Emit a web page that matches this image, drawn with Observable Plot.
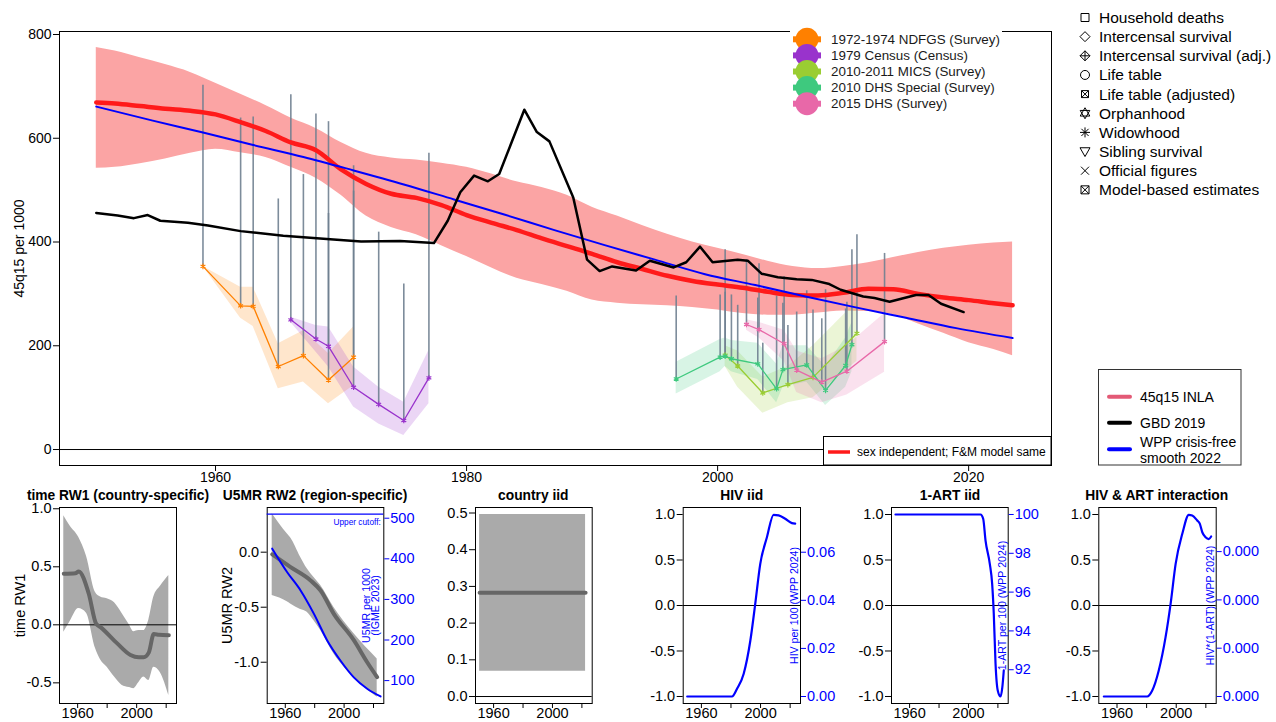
<!DOCTYPE html>
<html><head><meta charset="utf-8">
<script src="https://cdn.jsdelivr.net/npm/d3@7"></script>
<script src="https://cdn.jsdelivr.net/npm/@observablehq/plot@0.6"></script>
<style>
body{margin:0;background:#fff;font-family:"Liberation Sans",Arial,sans-serif;}
#wrap{position:relative;width:1276px;height:722px;overflow:hidden;background:#fff;}
.ttl{position:absolute;font-weight:bold;font-size:13.8px;transform:translate(-50%,-50%);white-space:nowrap;color:#000;}
</style></head><body><div id="wrap"></div>
<script>
// ---------------- MAIN CHART DATA ----------------
const xTicksMain = [1960, 1980, 2000, 2020];
const yTicksMain = [0, 200, 400, 600, 800];

const inlaYears = [1950.5,1952,1954,1956,1958,1960,1962,1964,1966,1968,1970,1972,1974,1976,1978,1980,1982,1984,1986,1988,1990,1992,1994,1996,1998,2000,2002,2004,2006,2008,2010,2012,2014,2016,2018,2020,2022,2023.5];
const inlaMid = [669,667,662,657,653,646,631,614,592,577,540,512,493,485,471,452,437,423,407,392,377,361,348,335,325,318,312,304,298,297,302,310,309,300,293,288,282,278];
const inlaHi = [775,768,755,742,727,706,685,663,639,619,592,571,562,558,552,544,531,516,505,490,467,450,432,415,400,388,376,363,353,349,353,360,370,380,388,394,398,400];
const inlaLo = [542,544,551,560,571,579,572,563,544,523,490,450,428,414,393,372,350,330,318,305,288,282,279,277,274,269,262,259,259,263,267,266,260,242,224,206,193,181];

const wppYears = [1950.5,1955,1959,1963,1967,1971,1975,1979,1983,1987,1991,1995,1999,2003,2007,2011,2015,2019,2023.5];
const wppVal = [661,634,611,587,564,538,511,482,453,423,394,366,338,317,295,274,254,234,215];

const gbdYears = [1950.5,1952.2,1953.5,1954.6,1955.6,1957.8,1959.4,1962,1965.4,1969.4,1971.6,1974.7,1977.4,1978.5,1979.5,1980.6,1981.7,1982.6,1984.6,1985.6,1986.6,1988.5,1989.6,1990.6,1991.6,1993.5,1994.6,1996.5,1997.5,1998.6,1999.6,2001.6,2002.4,2003.5,2004.8,2006.3,2007.5,2008.9,2009.8,2011.6,2012.5,2013.7,2015.8,2016.8,2017.8,2019.6];
const gbdVal = [456,451,446,452,441,437,432,421,412,405,401,402,398,441,496,528,517,531,655,612,594,486,366,344,353,345,364,351,361,391,361,366,364,339,332,328,327,319,308,295,292,285,298,298,281,265];

// survey series
const surveyNames = ["1972-1974 NDFGS (Survey)","1979 Census (Census)","2010-2011 MICS (Survey)","2010 DHS Special (Survey)","2015 DHS (Survey)"];
const surveyColors = ["#ff8000","#9933cc","#9acd32","#3ec97e","#e868a8"];

const ndfgsYears = [1959,1962,1963,1965,1967,1969,1971];
const ndfgsVal = [353,277,276,160,181,134,178];
const ndfgsTop = [702,639,641,483,530,455,547];
const ndfgsLo = [353,253,237,117,130,88,123];
const ndfgsHi = [353,313,313,204,229,185,236];

const censusYears = [1966,1968,1969,1971,1973,1975,1977];
const censusVal = [250,213,199,120,87,56,138];
const censusTop = [684,647,632,498,419,319,571];
const censusLo = [245,188,159,82,49,27,88];
const censusHi = [255,239,236,159,120,91,191];

const micsYears = [2000.6,2001.6,2003.6,2005.6,2007.6,2011.1];
const micsVal = [182,161,109,125,139,224];
const micsTop = [385,278,205,239,269,414];
const micsLo = [160,120,70,90,100,170];
const micsHi = [200,190,140,160,200,285];

const dhsSpYears = [1996.7,2000.2,2000.6,2001.1,2003.2,2004.7,2005.2,2007.1,2008.6,2010.2,2010.7];
const dhsSpVal = [136,178,180,175,165,117,154,163,114,162,202];
const dhsSpTop = [296,298,303,298,292,296,282,306,308,271,385];
const dhsSpLo = [107,150,160,150,135,90,120,130,85,120,150];
const dhsSpHi = [168,212,215,210,205,165,200,200,160,215,245];

const dhs15Years = [2002.3,2003.3,2005.3,2006.3,2008.3,2010.3,2013.3];
const dhs15Val = [241,231,204,153,130,151,208];
const dhs15Top = [366,358,333,265,252,284,378];
const dhs15Lo = [230,215,170,110,90,105,149];
const dhs15Hi = [250,245,230,190,175,200,262];

const methodNames = ["Household deaths","Intercensal survival","Intercensal survival (adj.)","Life table","Life table (adjusted)","Orphanhood","Widowhood","Sibling survival","Official figures","Model-based estimates"];
const lineLegendNames = ["45q15 INLA","GBD 2019","WPP crisis-free smooth 2022"];

// ---------------- PANEL DATA ----------------
const pTicks = [1960,1980,2000,2020];
const pLabels = [1960,2000];

// time RW1
const rw1Years = [1950.6,1958.5,1960.7,1967.5,1972.5,1975.5,1986.8,1995.8,2001.4,2004.8,2008.2,2011.6,2015,2021.8];
const rw1Mean = [0.44,0.445,0.46,0.27,0.01,-0.02,-0.16,-0.26,-0.28,-0.28,-0.24,-0.08,-0.085,-0.09];
const rw1BandYears = [1950.6,1955,1960.7,1966,1972,1975.5,1980,1985,1990,1995,1998,2001.4,2004.8,2008.2,2011.6,2016,2021.8];
const rw1Hi = [0.94,0.85,0.755,0.59,0.28,0.24,0.225,0.19,0.10,0.0,-0.06,-0.05,-0.05,0.04,0.24,0.33,0.425];
const rw1Lo = [-0.065,0.03,0.14,0.10,-0.20,-0.30,-0.365,-0.45,-0.52,-0.54,-0.55,-0.50,-0.45,-0.48,-0.365,-0.41,-0.61];
const rw1Ticks = [-0.5,0,0.5,1], rw1TickLabels = ["-0.5","0.0","0.5","1.0"];

// U5MR RW2
const rw2BandYears = [1951.1,1961.3,1963.6,1970.4,1974.9,1979.4,1984,1993,2006.6,2022.5];
const rw2Hi = [0.35,0.167,0.13,-0.045,-0.15,-0.227,-0.30,-0.50,-0.74,-0.97];
const rw2Lo = [-0.394,-0.45,-0.47,-0.52,-0.545,-0.62,-0.71,-0.924,-1.136,-1.318];
const rw2Years = [1951.1,1963.6,1977.2,1984,1993,2006.6,2015.7,2022.5];
const rw2Mean = [-0.02,-0.136,-0.257,-0.348,-0.56,-0.80,-1.0,-1.136];
const u5mrYears = [1951.1,1961.3,1970.4,1979.4,1988.5,1997.6,2006.6,2015.7,2024.8];
const u5mrVal = [425,367,322,265,199,149,108,80,61];
const u5mrCutoff = 510;
const rw2Ticks = [-1,-0.5,0], rw2TickLabels = ["-1.0","-0.5","0.0"];
const u5Ticks = [100,200,300,400,500], u5TickLabels = ["100","200","300","400","500"];

// country iid
const iidYears = [1950.5,2022.5];
const iidMean = [0.283,0.283];
const iidLo = [0.069,0.069];
const iidHi = [0.496,0.496];
const iidTicks = [0,0.1,0.2,0.3,0.4,0.5], iidTickLabels = ["0.0","0.1","0.2","0.3","0.4","0.5"];

// HIV / ART panels (scaled -1..1)
const sTicks = [-1,-0.5,0,0.5,1], sTickLabels = ["-1.0","-0.5","0.0","0.5","1.0"];
const hivYears = [1950.4,1980.7,1984.1,1988.6,1993.1,1996.4,1999.8,2004.3,2008.8,2012.2,2016.7,2021.2,2023.4];
const hivScaled = [-1,-1,-0.915,-0.75,-0.385,0.018,0.458,0.75,0.997,0.99,0.953,0.905,0.9];
const hivTicks = [0,0.02,0.04,0.06], hivTickLabels = ["0.00","0.02","0.04","0.06"];

const artYears = [1950.4,2008.2,2010,2011.6,2014.5,2016.1,2017.2,2018.4,2019.9,2021.8,2023,2024];
const artScaled = [1,1,0.953,0.714,0.458,0.238,-0.09,-0.64,-0.934,-1,-0.9,-0.714];
const artTicks = [92,94,96,98,100], artTickLabels = ["92","94","96","98","100"];

const intYears = [1951.1,1980.4,1983.8,1988.2,1992.8,1996.2,1999.6,2004.1,2008.5,2010.8,2014.2,2015.9,2017.6,2019.8,2022,2023.6];
const intScaled = [-1,-1,-0.934,-0.714,-0.348,0.018,0.458,0.788,0.997,0.99,0.934,0.9,0.805,0.75,0.73,0.758];
const intTicks = [0,0.0001,0.0002,0.0003], intTickLabels = ["0.000","0.000","0.000","0.000"];

// ---------------- BUILD ----------------
const FONT = '"Liberation Sans", Arial, sans-serif';
const style = {fontFamily: FONT, fontSize: "14px", background: "transparent", overflow: "visible", color: "black"};
const wrap = document.getElementById("wrap");
function place(el, left, top){ el.style.position="absolute"; el.style.left=left+"px"; el.style.top=top+"px"; wrap.appendChild(el); }
function tbl(years, cols){ return years.map((year,i)=>{ const o={year}; for (const k in cols) o[k]=cols[k][i]; return o; }); }

const inla = tbl(inlaYears, {mid: inlaMid, lo: inlaLo, hi: inlaHi});
const wpp = tbl(wppYears, {v: wppVal});
const gbd = tbl(gbdYears, {v: gbdVal});
const surveys = [
  tbl(ndfgsYears, {val: ndfgsVal, top: ndfgsTop, lo: ndfgsLo, hi: ndfgsHi}),
  tbl(censusYears, {val: censusVal, top: censusTop, lo: censusLo, hi: censusHi}),
  tbl(micsYears, {val: micsVal, top: micsTop, lo: micsLo, hi: micsHi}),
  tbl(dhsSpYears, {val: dhsSpVal, top: dhsSpTop, lo: dhsSpLo, hi: dhsSpHi}),
  tbl(dhs15Years, {val: dhs15Val, top: dhs15Top, lo: dhs15Lo, hi: dhs15Hi})
];

const mainMarks = [Plot.areaY(inla, {x:"year", y1:"lo", y2:"hi", fill:"#fba4a4", curve:"monotone-x"})];
surveys.forEach((rows,i)=> mainMarks.push(Plot.areaY(rows, {x:"year", y1:"lo", y2:"hi", fill:surveyColors[i], fillOpacity:0.2})));
mainMarks.push(Plot.ruleY([0], {stroke:"black", strokeWidth:1}));
surveys.forEach(rows=> mainMarks.push(Plot.ruleX(rows, {x:"year", y1:"val", y2:"top", stroke:"#6f7f90", strokeWidth:1.6, strokeOpacity:0.9})));
surveys.forEach((rows,i)=>{
  mainMarks.push(Plot.line(rows, {x:"year", y:"val", stroke:surveyColors[i], strokeWidth:1.3}));
  mainMarks.push(Plot.dot(rows, {x:"year", y:"val", symbol:"asterisk", r:2.6, stroke:surveyColors[i], strokeWidth:1.2}));
});
mainMarks.push(
  Plot.line(inla, {x:"year", y:"mid", stroke:"#ff1a1a", strokeWidth:4.5, curve:"monotone-x"}),
  Plot.line(wpp, {x:"year", y:"v", stroke:"blue", strokeWidth:2, curve:"monotone-x"}),
  Plot.line(gbd, {x:"year", y:"v", stroke:"black", strokeWidth:2.5, strokeLinejoin:"round"}),
  Plot.frame({stroke:"black"}),
  Plot.axisY({ticks: yTicksMain, tickSize:6, tickPadding:2, tickFormat: d=>String(d), label:null, fontSize:14}),
  Plot.axisX({ticks: xTicksMain, tickSize:6, tickPadding:1, tickFormat: d=>String(d), label:null, fontSize:14}),
  Plot.text(["45q15 per 1000"], {text:d=>d, frameAnchor:"left", textAnchor:"middle", rotate:-90, dx:-40, fontSize:14})
);
const mainPlot = Plot.plot({
  width:1061, height:490, marginLeft:59, marginRight:10, marginTop:31, marginBottom:25,
  x:{domain:[1947.57, 2026.6], label:null}, y:{domain:[-30.8, 805.8], label:null},
  style, marks: mainMarks
});
place(mainPlot, 0, 0);

// ---------------- PANELS ----------------
const PT = 480, PH = 242, PMT = 27, PMB = 19;
const XD = [1947.7, 2027];
function mapFmt(ticks, labels){ const m = new Map(ticks.map((t,i)=>[t,labels[i]])); return d=>m.get(d); }
function axisL(ticks, labels){ return Plot.axisY({ticks, tickSize:6, tickPadding:2, tickFormat: mapFmt(ticks,labels), label:null, fontSize:14.5}); }
function axisR(ticks, labels){ return Plot.axisY({anchor:"right", ticks, tickSize:5, tickPadding:1.5, tickFormat: mapFmt(ticks,labels), label:null, color:"blue", fontSize:14.5}); }
function xAxes(){ return [
  Plot.axisX({ticks:pTicks, tickSize:5, tickFormat:()=>"", label:null}),
  Plot.axisX({ticks:pLabels, tickSize:0, tickPadding:4, tickFormat:d=>String(d), label:null, fontSize:14.5})
]; }
function panel(left, width, mL, mR, yDomain, marks){
  const p = Plot.plot({width, height:PH, marginLeft:mL, marginRight:mR, marginTop:PMT, marginBottom:PMB,
    x:{domain:XD, label:null}, y:{domain:yDomain, label:null}, style, marks});
  place(p, left, PT);
}
function overlay(left, width, mL, mR, yDomain, marks){
  const p = Plot.plot({width, height:PH, marginLeft:mL, marginRight:mR, marginTop:PMT, marginBottom:PMB,
    x:{domain:XD, label:null, axis:null}, y:{domain:yDomain, label:null}, style, marks});
  place(p, left, PT);
}
function title(text, cx){ const d=document.createElement("div"); d.className="ttl"; d.textContent=text; d.style.left=cx+"px"; d.style.top="495px"; wrap.appendChild(d); }

// Panel 1
panel(0, 200, 59, 24, [-0.678, 1.011], [
  Plot.areaY(tbl(rw1BandYears,{lo:rw1Lo,hi:rw1Hi}), {x:"year", y1:"lo", y2:"hi", fill:"#aaaaaa", curve:"monotone-x"}),
  Plot.ruleY([0], {stroke:"black"}),
  Plot.line(tbl(rw1Years,{v:rw1Mean}), {x:"year", y:"v", stroke:"#666666", strokeWidth:4, curve:"monotone-x"}),
  Plot.frame({stroke:"black"}),
  axisL(rw1Ticks, rw1TickLabels), ...xAxes(),
  Plot.text(["time RW1"], {text:d=>d, frameAnchor:"left", textAnchor:"middle", rotate:-90, dx:-39, fontSize:14.5})
]);
title("time RW1 (country-specific)", 118);

// Panel 2
panel(205, 230, 61.7, 51.7, [-1.375, 0.406], [
  Plot.areaY(tbl(rw2BandYears,{lo:rw2Lo,hi:rw2Hi}), {x:"year", y1:"lo", y2:"hi", fill:"#aaaaaa", curve:"monotone-x"}),
  Plot.line(tbl(rw2Years,{v:rw2Mean}), {x:"year", y:"v", stroke:"#666666", strokeWidth:4, curve:"monotone-x"}),
  Plot.frame({stroke:"black"}),
  axisL(rw2Ticks, rw2TickLabels), ...xAxes(),
  Plot.text(["U5MR RW2"], {text:d=>d, frameAnchor:"left", textAnchor:"middle", rotate:-90, dx:-40, fontSize:14.5})
]);
overlay(205, 230, 61.7, 51.7, [43.6, 526.4], [
  Plot.ruleY([u5mrCutoff], {stroke:"blue", strokeWidth:1.2}),
  Plot.text([{t:"Upper cutoff:", v:u5mrCutoff}], {text:"t", y:"v", frameAnchor:"right", textAnchor:"end", dx:-3, dy:8, fill:"blue", fontSize:8.3}),
  Plot.line(tbl(u5mrYears,{v:u5mrVal}), {x:"year", y:"v", stroke:"blue", strokeWidth:2, curve:"monotone-x"}),
  axisR(u5Ticks, u5TickLabels),
  Plot.text(["U5MR per 1000\n(IGME 2023)"], {text:d=>d, frameAnchor:"right", textAnchor:"middle", rotate:-90, dx:-12, fill:"blue", fontSize:10.6, lineHeight:0.85})
]);
title("U5MR RW2 (region-specific)", 315);

// Panel 3
panel(425, 185, 50, 18.3, [-0.019, 0.515], [
  Plot.areaY(tbl(iidYears,{lo:iidLo,hi:iidHi}), {x:"year", y1:"lo", y2:"hi", fill:"#aaaaaa"}),
  Plot.ruleY([0], {stroke:"black"}),
  Plot.line(tbl(iidYears,{v:iidMean}), {x:"year", y:"v", stroke:"#666666", strokeWidth:4}),
  Plot.frame({stroke:"black"}),
  axisL(iidTicks, iidTickLabels), ...xAxes()
]);
title("country iid", 533.3);

// Panels 4-6
function hivPanel(left, width, mL, mR, years, vals, rDomain, rTicks, rLabels, rLabel, dxLab, ttl, cx){
  panel(left, width, mL, mR, [-1.077, 1.077], [
    Plot.ruleY([0], {stroke:"black"}),
    Plot.line(tbl(years,{v:vals}), {x:"year", y:"v", stroke:"blue", strokeWidth:2.2, curve:"monotone-x"}),
    Plot.frame({stroke:"black"}),
    axisL(sTicks, sTickLabels), ...xAxes()
  ]);
  overlay(left, width, mL, mR, rDomain, [
    axisR(rTicks, rLabels),
    Plot.text([rLabel], {text:d=>d, frameAnchor:"right", textAnchor:"middle", rotate:-90, dx:dxLab, fill:"blue", fontSize:10.6})
  ]);
  title(ttl, cx);
}
hivPanel(630, 215, 52.7, 45, hivYears, hivScaled, [-0.00291, 0.0786], hivTicks, hivTickLabels, "HIV per 100 (WPP 2024)", -5.5, "HIV iid", 741.7);
hivPanel(840, 210, 51, 42.3, artYears, artScaled, [90.26, 100.36], artTicks, artTickLabels, "1-ART per 100 (WPP 2024)", -6, "1-ART iid", 950);
hivPanel(1045, 231, 53.3, 60.3, intYears, intScaled, [-0.0000145, 0.0003913], intTicks, intTickLabels, "HIV*(1-ART) (WPP 2024)", -5.7, "HIV & ART interaction", 1156.7);

// ---------------- LEGENDS (overlay) ----------------
const ov = d3.create("svg").attr("width",1276).attr("height",722)
  .style("position","absolute").style("left","0px").style("top","0px").style("font-family",FONT);

// survey legend
ov.append("rect").attr("x",790).attr("y",22).attr("width",212).attr("height",95).attr("fill","white");
surveyNames.forEach((n,i)=>{
  const y = 39.3 + i*16.1;
  ov.append("line").attr("x1",793).attr("x2",821).attr("y1",y).attr("y2",y).attr("stroke",surveyColors[i]).attr("stroke-width",6);
  ov.append("circle").attr("cx",807).attr("cy",y).attr("r",11.5).attr("fill",surveyColors[i]);
  ov.append("text").attr("x",831).attr("y",y).attr("dy","0.35em").attr("font-size",13.4).attr("fill","#1a1a1a").text(n);
});

// method legend
const symPaths = [
  "M-4,-4H4V4H-4Z",
  "M0,-5L5,0L0,5L-5,0Z",
  "M0,-5L5,0L0,5L-5,0ZM0,-5V5M-5,0H5",
  "M4.5,0A4.5,4.5 0 1,1 -4.5,0A4.5,4.5 0 1,1 4.5,0",
  "M-3.5,-3.5H3.5V3.5H-3.5ZM-3.5,-3.5L3.5,3.5M-3.5,3.5L3.5,-3.5",
  "M0,-5.5L4.8,2.8L-4.8,2.8ZM0,5.5L4.8,-2.8L-4.8,-2.8Z",
  "M0,-5V5M-5,0H5M-3.6,-3.6L3.6,3.6M-3.6,3.6L3.6,-3.6",
  "M-5,-3.8H5L0,5Z",
  "M-4,-4L4,4M-4,4L4,-4",
  "M-4,-4H4V4H-4ZM-4,-4L4,4M-4,4L4,-4"
];
methodNames.forEach((n,i)=>{
  const y = 17.5 + i*19.15;
  ov.append("path").attr("d",symPaths[i]).attr("transform",`translate(1085,${y})`).attr("fill","none").attr("stroke","black").attr("stroke-width",1);
  ov.append("text").attr("x",1099).attr("y",y).attr("dy","0.35em").attr("font-size",15.5).attr("fill","black").text(n);
});

// line legend box
ov.append("rect").attr("x",1098.5).attr("y",369.5).attr("width",142.5).attr("height",95.5).attr("fill","white").attr("stroke","#333");
const llColors = ["#e35a76","black","blue"];
const llY = [396.7, 422.7, 449.3];
llColors.forEach((c,i)=>{
  ov.append("line").attr("x1",1109).attr("x2",1130).attr("y1",llY[i]).attr("y2",llY[i]).attr("stroke",c).attr("stroke-width",4).attr("stroke-linecap","round");
});
ov.append("text").attr("x",1140).attr("y",396.7).attr("dy","0.35em").attr("font-size",14).text(lineLegendNames[0]);
ov.append("text").attr("x",1140).attr("y",422.7).attr("dy","0.35em").attr("font-size",14).text(lineLegendNames[1]);
ov.append("text").attr("x",1140).attr("y",441.7).attr("dy","0.35em").attr("font-size",14).text("WPP crisis-free");
ov.append("text").attr("x",1140).attr("y",458.3).attr("dy","0.35em").attr("font-size",14).text("smooth 2022");

// sex legend box
ov.append("rect").attr("x",823.5).attr("y",436.5).attr("width",227.5).attr("height",28.5).attr("fill","white").attr("stroke","black");
ov.append("line").attr("x1",828).attr("x2",850).attr("y1",452).attr("y2",452).attr("stroke","#ff1a1a").attr("stroke-width",3.5);
ov.append("text").attr("x",857).attr("y",452).attr("dy","0.35em").attr("font-size",12).text("sex independent; F&M model same");

place(ov.node(), 0, 0);
</script></body></html>
